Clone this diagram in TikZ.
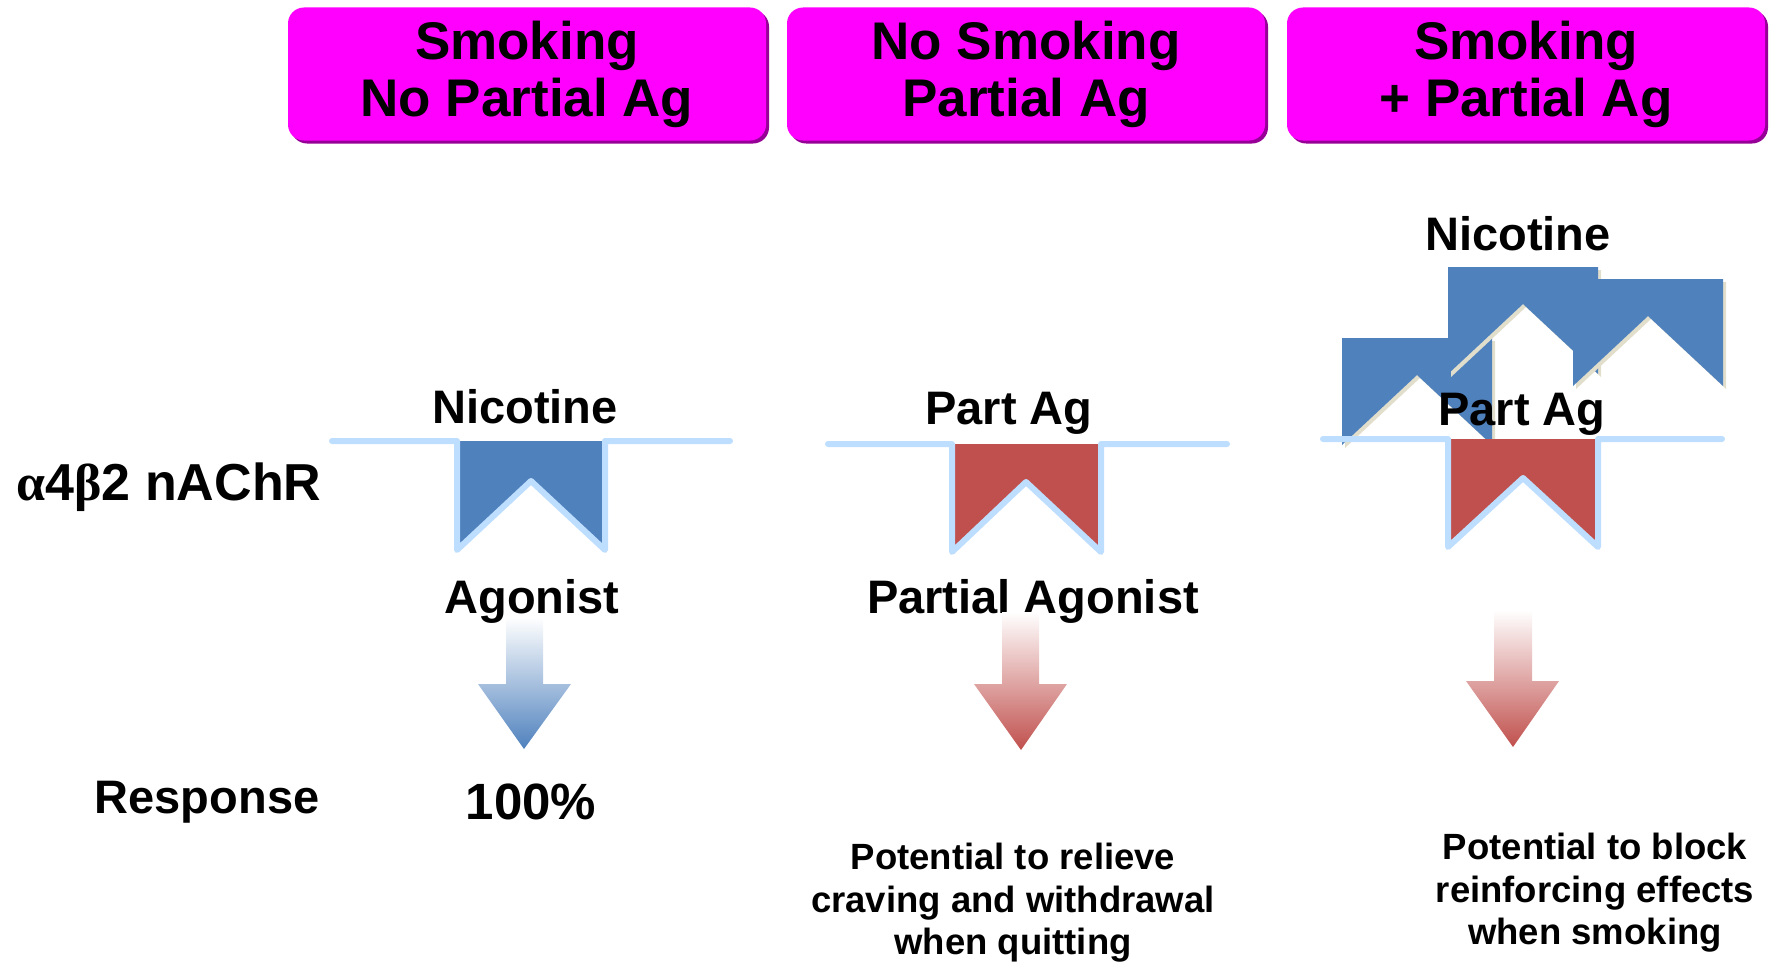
\documentclass[tikz,border=0pt]{standalone}
\usepackage{fontspec}
\setmainfont{Liberation Sans}
\newfontfamily\grkfont{Liberation Serif}
\usepackage{tikz}
\usetikzlibrary{positioning,shadows}
\definecolor{c_head}{RGB}{255,0,255}
\definecolor{c_headsh}{RGB}{150,0,150}
\definecolor{c_nic}{RGB}{79,129,189}
\definecolor{c_part}{RGB}{192,80,77}
\definecolor{c_memb}{RGB}{190,222,255}
\definecolor{c_sh}{RGB}{226,222,204}
\tikzset{c-header/.style={rectangle, rounded corners=16pt, minimum width=478pt, minimum height=133pt, text centered, align=center, fill=c_head, font=\fontsize{53}{57}\selectfont\bfseries, drop shadow={shadow xshift=3pt, shadow yshift=-3pt, fill=c_headsh, opacity=1}},
c-label/.style={inner sep=0pt, anchor=base, font=\fontsize{47}{52}\selectfont\bfseries},
c-note/.style={inner sep=0pt, align=center, font=\fontsize{36.5}{42.5}\selectfont\bfseries},
membrane/.style={draw=c_memb, line width=6pt, line cap=round, line join=round},
nicchev/.pic={
\fill[c_sh] (3,3) -- (153,3) -- (153,110) -- (78,40) -- (3,110) -- cycle;
\fill[c_nic] (0,0) -- (150,0) -- (150,107) -- (75,37) -- (0,107) -- cycle;
}}

\begin{document}
\begin{tikzpicture}[x=1pt, y=-1pt]
\useasboundingbox (0,0) rectangle (1771,966);
\node (h1) [c-header] at (527,74) {Smoking\\No Partial Ag};
\node (h2) [c-header] at (1026,74) {No Smoking\\Partial Ag};
\node (h3) [c-header] at (1526,74) {Smoking\\+ Partial Ag};

\pic at (1342,338) {nicchev};
\pic at (1448,267) {nicchev};
\pic at (1573,279) {nicchev};

\fill[c_nic] (457,441) -- (605,441) -- (605,548) -- (531,481) -- (457,548) -- cycle;
\draw[membrane] (332,441) -- (457,441) -- (457,550) -- (531,481) -- (605,550) -- (605,441) -- (730,441);
\fill[c_part] (952,444) -- (1101,444) -- (1101,550) -- (1026,482) -- (952,550) -- cycle;
\draw[membrane] (828,444) -- (952,444) -- (952,552) -- (1026,482) -- (1101,552) -- (1101,444) -- (1227,444);
\fill[c_part] (1448,439) -- (1598,439) -- (1598,545) -- (1523,478) -- (1448,545) -- cycle;
\draw[membrane] (1323,439) -- (1448,439) -- (1448,547) -- (1523,478) -- (1598,547) -- (1598,439) -- (1722,439);

\node (rec) [c-label, font=\fontsize{52}{56}\selectfont\bfseries] at (169,500) {{\grkfont α}4{\grkfont β}2 nAChR};
\node (nic1) [c-label] at (525,423) {Nicotine};
\node (ag1) [c-label] at (532,613) {Agonist};
\node (pag2) [c-label] at (1009,424) {Part Ag};
\node (ag2) [c-label] at (1033,613) {Partial Agonist};
\node (nic3) [c-label] at (1518,250) {Nicotine};
\node (pag3) [c-label] at (1522,425) {Part Ag};

\shade[top color=white, bottom color=c_nic] (506,617) -- (543,617) -- (543,684) -- (571,684) -- (524,749) -- (478,684) -- (506,684) -- cycle;
\shade[top color=white, bottom color=c_part] (1002,612) -- (1039,612) -- (1039,684) -- (1067,684) -- (1021,750) -- (974,684) -- (1002,684) -- cycle;
\shade[top color=white, bottom color=c_part] (1494,610) -- (1532,610) -- (1532,681) -- (1559,681) -- (1513,747) -- (1466,681) -- (1494,681) -- cycle;

\node (resp) [c-label] at (207,813) {Response};
\node (pct) [c-label, font=\fontsize{51}{55}\selectfont\bfseries] at (531,819) {100\%};
\node (eff2) [c-note] at (1013,903) {Potential to relieve\\craving and withdrawal\\when quitting};
\node (eff3) [c-note] at (1595,893) {Potential to block\\reinforcing effects\\when smoking};
\end{tikzpicture}
\end{document}
